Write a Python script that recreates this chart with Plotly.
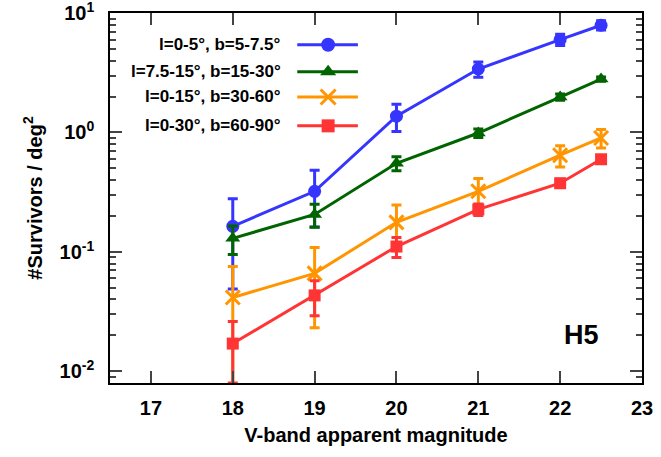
import plotly.graph_objects as go

# ---- data ----
mags = [18, 19, 20, 21, 22, 22.5]
labels = ["l=0-5°, b=5-7.5°", "l=7.5-15°, b=15-30°", "l=0-15°, b=30-60°", "l=0-30°, b=60-90°"]
blue_vals = [0.164, 0.322, 1.37, 3.40, 6.0, 7.9]
blue_errs = [0.115, 0.16, 0.35, 0.50, 0.65, 0.7]
green_vals = [0.130, 0.206, 0.553, 0.99, 1.98, 2.80]
green_errs = [0.035, 0.045, 0.075, 0.08, 0.12, 0.12]
orange_vals = [0.0416, 0.0662, 0.177, 0.322, 0.645, 0.90]
orange_errs = [0.034, 0.043, 0.07, 0.09, 0.13, 0.16]
red_vals = [0.0171, 0.0433, 0.111, 0.227, 0.376, 0.597]
red_errs = [0.0091, 0.014, 0.021, 0.025, 0.03, 0.03]
colors = ["#3535ff", "#006400", "#ff9500", "#ff3535"]
symbols = ["circle", "triangle-up", "x-thin-open", "square"]
msizes = [13, 13, 14, 12]
series = [(blue_vals, blue_errs), (green_vals, green_errs), (orange_vals, orange_errs), (red_vals, red_errs)]

x_ticks = [17, 18, 19, 20, 21, 22, 23]
y_ticks = [0.01, 0.1, 1, 10]
y_ticktext = ["10<sup>-2</sup>", "10<sup>-1</sup>", "10<sup>0</sup>", "10<sup>1</sup>"]
y_minor = [0.008, 0.009] + [k * d for d in (0.01, 0.1, 1) for k in range(2, 10)]


def marker_for(sym, ms, col):
    mk = dict(symbol=sym, size=ms, color=col)
    if sym == "x-thin-open":
        mk["line"] = dict(width=3, color=col)
    return mk


fig = go.Figure()
for (vals, errs), col, sym, ms in zip(series, colors, symbols, msizes):
    fig.add_trace(go.Scatter(
        x=mags, y=vals, mode="lines+markers",
        line=dict(color=col, width=3), marker=marker_for(sym, ms, col),
        error_y=dict(type="data", array=errs, color=col, thickness=3, width=5),
        showlegend=False, xaxis="x", yaxis="y",
    ))

# manual legend (sample on the right of the text)
leg_y = [0.914, 0.841, 0.773, 0.695]
for lab, col, sym, ms, ly in zip(labels, colors, symbols, msizes, leg_y):
    fig.add_trace(go.Scatter(
        x=[0.352, 0.466], y=[ly, ly], mode="lines",
        line=dict(color=col, width=3),
        showlegend=False, xaxis="x2", yaxis="y2", hoverinfo="skip",
    ))
    fig.add_trace(go.Scatter(
        x=[0.41], y=[ly], mode="markers",
        marker=marker_for(sym, ms + 1, col),
        showlegend=False, xaxis="x2", yaxis="y2", hoverinfo="skip",
    ))
    fig.add_annotation(x=0.325, y=ly, xref="paper", yref="paper", text=lab,
                       xanchor="right", yanchor="middle", showarrow=False,
                       font=dict(size=17, family="Liberation Sans", color="black", weight="bold"))

fig.add_annotation(x=0.887, y=0.13, xref="paper", yref="paper", text="H5",
                   showarrow=False, xanchor="center", yanchor="middle",
                   font=dict(size=27, family="Liberation Sans", color="black", weight="bold"))

fig.update_layout(
    width=661, height=457,
    margin=dict(l=110, r=19, t=13, b=74, autoexpand=False),
    paper_bgcolor="white", plot_bgcolor="white",
    font=dict(family="Liberation Sans", size=20, color="black", weight="bold"),
    xaxis=dict(
        range=[16.5, 23], tickvals=x_ticks, ticks="inside", ticklen=12, tickwidth=1.5,
        tickcolor="#444", showline=True, linecolor="black", linewidth=1.5, mirror="ticks",
        showgrid=False, zeroline=False, automargin=False,
        title=dict(text="V-band apparent magnitude", font=dict(size=20), standoff=10),
        ticklabelstandoff=6, ticklabeloverflow="allow",
    ),
    yaxis=dict(
        type="log", range=[-2.097, 1.0003], tickvals=y_ticks, ticktext=y_ticktext,
        ticks="inside", ticklen=12, tickwidth=1.5, tickcolor="#444",
        minor=dict(tickvals=y_minor, ticks="inside", ticklen=6, tickwidth=1.5, tickcolor="#444"),
        showline=True, linecolor="black", linewidth=1.5, mirror="ticks",
        showgrid=False, zeroline=False, automargin=False,
        title=dict(text="#Survivors / deg<sup>2</sup>", font=dict(size=20), standoff=12),
        ticklabelstandoff=10, ticklabeloverflow="allow",
    ),
    xaxis2=dict(range=[0, 1], overlaying="x", visible=False, fixedrange=True),
    yaxis2=dict(range=[0, 1], overlaying="y", visible=False, fixedrange=True),
)

fig.write_html("out.html")
